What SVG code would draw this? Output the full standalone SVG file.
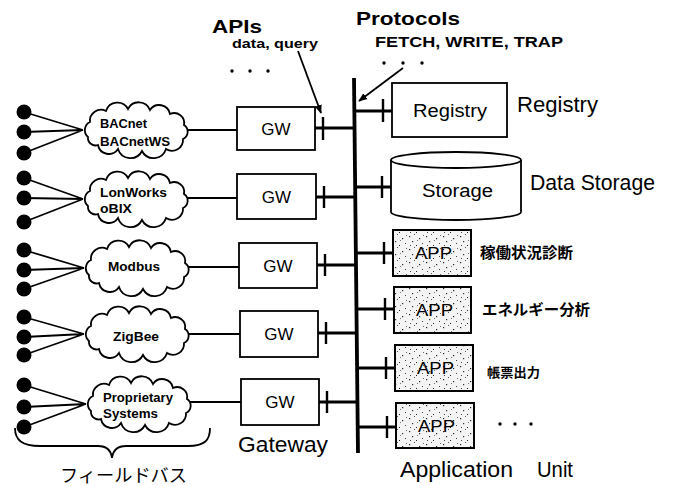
<svg xmlns="http://www.w3.org/2000/svg" width="675" height="486" viewBox="0 0 675 486">
<style>
.t{font-family:"Liberation Sans",Arial,sans-serif;fill:#000}
.b{font-weight:bold}
.jp{font-family:"Liberation Sans","Noto Sans CJK JP",sans-serif;fill:#000}
.box{fill:#fff;stroke:#000;stroke-width:1.8}
.app{fill:url(#speckle);stroke:#000;stroke-width:2}
.cl{fill:#fff;stroke:#000;stroke-width:1.8}
.thin{stroke:#000;stroke-width:1.8;fill:none}
.stub{stroke:#000;stroke-width:3;fill:none}
.tick{stroke:#000;stroke-width:2.4;fill:none}
.bus{stroke:#000;stroke-width:3.8;fill:none}
.dot{fill:#000}
</style>
<defs>
<path id="cloud" d="M-48,7 A9,9 0 0 1 -46,-8 A11,11 0 0 1 -30,-19 A12,12 0 0 1 -8,-21 A12,12 0 0 1 14,-20 A11,11 0 0 1 34,-16 A10,10 0 0 1 48,-5 A8,8 0 0 1 47,9 A11,11 0 0 1 30,19 A13,13 0 0 1 6,21 A13,13 0 0 1 -18,19 A11,11 0 0 1 -38,15 A7.5,7.5 0 0 1 -48,7 Z"/>
<pattern id="speckle" width="17" height="13" patternUnits="userSpaceOnUse">
<rect width="17" height="13" fill="#f4f4f4"/>
<rect x="1" y="2" width="1.2" height="1.2" fill="#222"/>
<rect x="6" y="0" width="1" height="1" fill="#555"/>
<rect x="11" y="4" width="1.2" height="1.2" fill="#222"/>
<rect x="14" y="9" width="1" height="1" fill="#444"/>
<rect x="4" y="7" width="1.2" height="1.2" fill="#333"/>
<rect x="8" y="11" width="1" height="1" fill="#222"/>
<rect x="15" y="1" width="1" height="1" fill="#666"/>
<rect x="2" y="11" width="1" height="1" fill="#444"/>
<rect x="9" y="6" width="1" height="1" fill="#777"/>
</pattern>
<marker id="ah" viewBox="0 0 10 10" refX="9" refY="5" markerWidth="9" markerHeight="9" orient="auto" markerUnits="userSpaceOnUse">
<path d="M0,1 L10,5 L0,9 Z" fill="#000"/>
</marker>
</defs>

<g id="titles">
<text class="t b" x="212" y="33" font-size="19" textLength="50" lengthAdjust="spacingAndGlyphs">APIs</text>
<text class="t b" x="232" y="48" font-size="13" textLength="86" lengthAdjust="spacingAndGlyphs">data, query</text>
<circle class="dot" cx="232" cy="71" r="1.7"/><circle class="dot" cx="250" cy="71" r="1.7"/><circle class="dot" cx="268" cy="71" r="1.7"/>
<text class="t b" x="356" y="25" font-size="19" textLength="104" lengthAdjust="spacingAndGlyphs">Protocols</text>
<text class="t b" x="375" y="47" font-size="14" textLength="188" lengthAdjust="spacingAndGlyphs">FETCH, WRITE, TRAP</text>
<circle class="dot" cx="384" cy="63" r="1.7"/><circle class="dot" cx="403" cy="63" r="1.7"/><circle class="dot" cx="422" cy="63" r="1.7"/>
</g>

<g id="connectors">
<line class="bus" x1="354" y1="78" x2="358" y2="453"/>
<line class="thin" x1="298" y1="51" x2="321" y2="113" marker-end="url(#ah)"/>
<line class="thin" x1="403" y1="68" x2="359" y2="101" marker-end="url(#ah)"/>
<g class="thin">
<path d="M24,112 L83,130 M24,132 L83,130 M24,153 L83,130"/>
<path d="M24,178 L83,199 M24,198 L83,199 M24,222 L83,199"/>
<path d="M24,250 L84,268 M24,270 L84,268 M24,289 L84,268"/>
<path d="M24,317 L84,334 M24,337 L84,334 M24,355 L84,334"/>
<path d="M24,385 L86,404 M24,407 L86,404 M24,427 L86,404"/>
<path d="M187,130 L237,130 M187,198 L237,198 M188,267 L239,267 M188,334 L240,334 M190,402 L241,402"/>
</g>
<path class="stub" d="M315,128 L355,128 M316,197 L355,197 M317,265 L356,265 M318,333 L357,333 M319,402 L358,402"/>
<path class="tick" d="M323,117 L323,140 M324,186 L324,208 M325,254 L325,276 M326,322 L326,344 M327,391 L327,413"/>
<path class="stub" d="M354,111 L392,111 M355,187 L391,187 M355,253 L393,253 M356,309 L394,309 M357,368 L395,368 M358,427 L396,427"/>
<path class="tick" d="M383,99 L383,122 M382,176 L382,198 M384,242 L384,264 M385,298 L385,320 M386,357 L386,379 M387,416 L387,438"/>
</g>

<g id="dots">
<circle class="dot" cx="24" cy="112" r="7.5"/><circle class="dot" cx="24" cy="132" r="7.5"/><circle class="dot" cx="24" cy="153" r="7.5"/>
<circle class="dot" cx="24" cy="178" r="7.5"/><circle class="dot" cx="24" cy="198" r="7.5"/><circle class="dot" cx="24" cy="222" r="7.5"/>
<circle class="dot" cx="24" cy="250" r="7.5"/><circle class="dot" cx="24" cy="270" r="7.5"/><circle class="dot" cx="24" cy="289" r="7.5"/>
<circle class="dot" cx="24" cy="317" r="7.5"/><circle class="dot" cx="24" cy="337" r="7.5"/><circle class="dot" cx="24" cy="355" r="7.5"/>
<circle class="dot" cx="24" cy="385" r="7.5"/><circle class="dot" cx="24" cy="407" r="7.5"/><circle class="dot" cx="24" cy="427" r="7.5"/>
</g>

<g id="cloud-bacnet">
<use href="#cloud" class="cl" transform="translate(136,130)"/>
<text class="t b" x="100" y="128" font-size="13" textLength="47" lengthAdjust="spacingAndGlyphs">BACnet</text>
<text class="t b" x="100" y="146" font-size="13" textLength="70" lengthAdjust="spacingAndGlyphs">BACnetWS</text>
</g>
<g id="cloud-lonworks">
<use href="#cloud" class="cl" transform="translate(136,199)"/>
<text class="t b" x="100" y="197" font-size="13" textLength="67" lengthAdjust="spacingAndGlyphs">LonWorks</text>
<text class="t b" x="100" y="213" font-size="13" textLength="32" lengthAdjust="spacingAndGlyphs">oBIX</text>
</g>
<g id="cloud-modbus">
<use href="#cloud" class="cl" transform="translate(137,268)"/>
<text class="t b" x="108" y="271" font-size="13" textLength="52" lengthAdjust="spacingAndGlyphs">Modbus</text>
</g>
<g id="cloud-zigbee">
<use href="#cloud" class="cl" transform="translate(137,334)"/>
<text class="t b" x="113" y="341" font-size="13" textLength="46" lengthAdjust="spacingAndGlyphs">ZigBee</text>
</g>
<g id="cloud-proprietary">
<use href="#cloud" class="cl" transform="translate(139,404)"/>
<text class="t b" x="103" y="402" font-size="13" textLength="70" lengthAdjust="spacingAndGlyphs">Proprietary</text>
<text class="t b" x="103" y="418" font-size="13" textLength="55" lengthAdjust="spacingAndGlyphs">Systems</text>
</g>

<g id="fieldbus">
<path class="thin" d="M15,428 C15,440 22,446 40,446 L98,446 C106,446 111,450 112,458 C113,450 118,446 126,446 L188,446 C205,446 210,440 210,428"/>
<text class="jp" x="60" y="482" font-size="18" textLength="127" lengthAdjust="spacingAndGlyphs">フィールドバス</text>
</g>

<g id="gw1"><rect class="box" x="237" y="107" width="78" height="43"/><text class="t" x="276" y="135" font-size="17" text-anchor="middle">GW</text></g>
<g id="gw2"><rect class="box" x="237" y="174" width="79" height="45"/><text class="t" x="276.5" y="203" font-size="17" text-anchor="middle">GW</text></g>
<g id="gw3"><rect class="box" x="239" y="243" width="78" height="45"/><text class="t" x="278" y="272" font-size="17" text-anchor="middle">GW</text></g>
<g id="gw4"><rect class="box" x="240" y="311" width="78" height="46"/><text class="t" x="279" y="340" font-size="17" text-anchor="middle">GW</text></g>
<g id="gw5"><rect class="box" x="241" y="379" width="78" height="46"/><text class="t" x="280" y="408" font-size="17" text-anchor="middle">GW</text></g>
<text class="t" x="238" y="452" font-size="22" textLength="90" lengthAdjust="spacingAndGlyphs">Gateway</text>

<g id="registry">
<rect class="box" x="392" y="83" width="115" height="54"/>
<text class="t" x="413" y="117" font-size="18" textLength="74" lengthAdjust="spacingAndGlyphs">Registry</text>
<text class="t" x="517" y="112" font-size="22" textLength="81" lengthAdjust="spacingAndGlyphs">Registry</text>
</g>
<g id="storage">
<path class="box" d="M391,160 L391,212 A65,8 0 0 0 521,212 L521,160"/>
<ellipse class="box" cx="456" cy="160" rx="65" ry="8"/>
<text class="t" x="422" y="197" font-size="18" textLength="71" lengthAdjust="spacingAndGlyphs">Storage</text>
<text class="t" x="530" y="190" font-size="22" textLength="125" lengthAdjust="spacingAndGlyphs">Data Storage</text>
</g>
<g id="app1">
<rect class="app" x="393" y="230" width="78" height="46"/>
<text class="t" x="415" y="259" font-size="17" textLength="37" lengthAdjust="spacingAndGlyphs">APP</text>
<text class="jp b" x="480" y="258" font-size="15" textLength="93" lengthAdjust="spacingAndGlyphs">稼働状況診断</text>
</g>
<g id="app2">
<rect class="app" x="394" y="287" width="77" height="46"/>
<text class="t" x="416" y="316" font-size="17" textLength="37" lengthAdjust="spacingAndGlyphs">APP</text>
<text class="jp b" x="482" y="315" font-size="15" textLength="108" lengthAdjust="spacingAndGlyphs">エネルギー分析</text>
</g>
<g id="app3">
<rect class="app" x="395" y="345" width="78" height="46"/>
<text class="t" x="417" y="374" font-size="17" textLength="37" lengthAdjust="spacingAndGlyphs">APP</text>
<text class="jp b" x="487" y="377" font-size="13" textLength="53" lengthAdjust="spacingAndGlyphs">帳票出力</text>
</g>
<g id="app4">
<rect class="app" x="396" y="403" width="78" height="45"/>
<text class="t" x="418" y="432" font-size="17" textLength="37" lengthAdjust="spacingAndGlyphs">APP</text>
<circle class="dot" cx="500" cy="424" r="1.7"/><circle class="dot" cx="515" cy="424" r="1.7"/><circle class="dot" cx="531" cy="424" r="1.7"/>
</g>
<text class="t" x="400" y="477" font-size="22" textLength="113" lengthAdjust="spacingAndGlyphs">Application</text>
<text class="t" x="537" y="477" font-size="22" textLength="36" lengthAdjust="spacingAndGlyphs">Unit</text>
</svg>
